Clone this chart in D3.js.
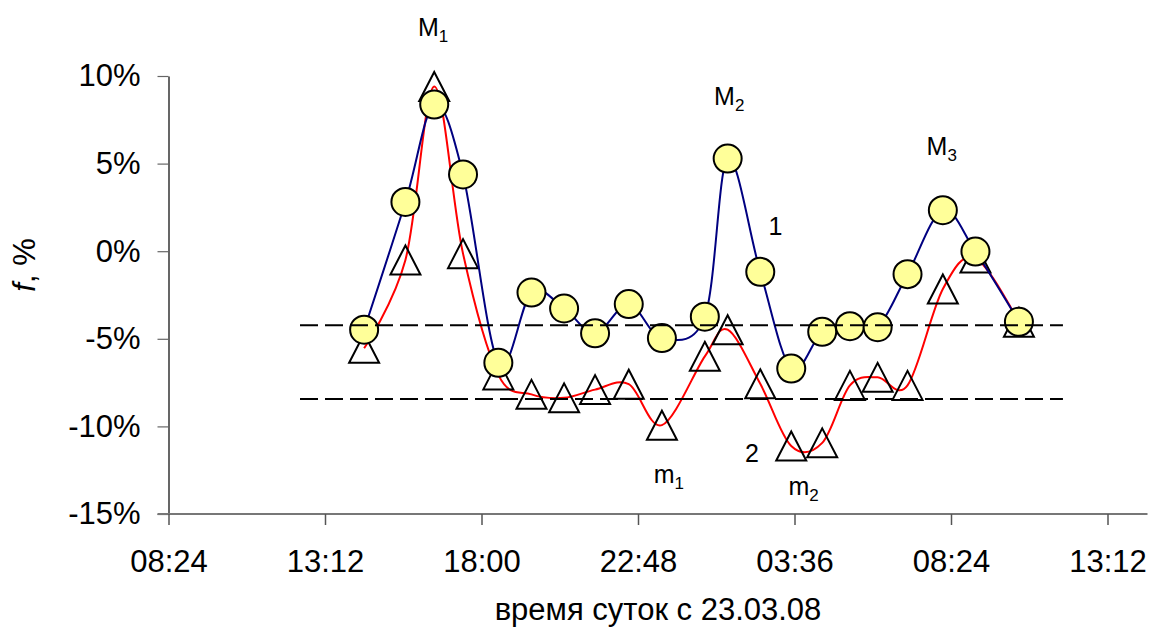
<!DOCTYPE html>
<html>
<head>
<meta charset="utf-8">
<script src="https://cdn.jsdelivr.net/npm/d3@7"></script>
<style>
  html, body { margin: 0; padding: 0; background: #fff; }
  svg { display: block; font-family: "Liberation Sans", Arial, sans-serif; }
</style>
</head>
<body>
<svg id="chart" width="1152" height="631"></svg>
<script>
// ---- data ----
const times = [
  "2008-03-23 14:24", "2008-03-23 15:40", "2008-03-23 16:33", "2008-03-23 17:26",
  "2008-03-23 18:31", "2008-03-23 19:32", "2008-03-23 20:32", "2008-03-23 21:29",
  "2008-03-23 22:31", "2008-03-23 23:32", "2008-03-24 00:51", "2008-03-24 01:33",
  "2008-03-24 02:33", "2008-03-24 03:30", "2008-03-24 04:27", "2008-03-24 05:18",
  "2008-03-24 06:09", "2008-03-24 07:04", "2008-03-24 08:09", "2008-03-24 09:09",
  "2008-03-24 10:29"
];
const series1 = [-4.48, 2.81, 8.37, 4.38, -6.37, -2.36, -3.27, -4.69, -3.02, -4.96, -3.74,
                 5.29, -1.18, -6.70, -4.60, -4.28, -4.34, -1.31, 2.34, -0.02, -4.03];
const series2 = [-5.54, -0.50, 9.40, -0.14, -7.06, -8.17, -8.37, -7.90, -7.59, -9.93, -6.00,
                 -4.48, -7.57, -11.12, -10.94, -7.66, -7.20, -7.66, -2.16, -0.39, -4.06];
const refLevels = [-4.22, -8.44];
const refSpan = ["2008-03-23 12:26", "2008-03-24 11:50"];
const xTickLabels = ["08:24", "13:12", "18:00", "22:48", "03:36", "08:24", "13:12"];
const xTickTimes = ["2008-03-23 08:24", "2008-03-23 13:12", "2008-03-23 18:00", "2008-03-23 22:48",
                    "2008-03-24 03:36", "2008-03-24 08:24", "2008-03-24 13:12"];
const yTicks = [10, 5, 0, -5, -10, -15];
const annoText = ["M", "M", "M", "1", "2", "m", "m"];
const annoSub  = ["1", "2", "3", "", "", "1", "2"];
const annoTime = ["2008-03-23 16:03", "2008-03-24 01:08", "2008-03-24 07:39", "2008-03-24 02:48",
                  "2008-03-24 02:05", "2008-03-23 23:17", "2008-03-24 03:25"];
const annoValue = [12.26, 8.37, 5.48, 0.91, -12.02, -13.25, -13.92];
const xTitle = "время суток с 23.03.08";

// ---- setup ----
const parse = d3.timeParse("%Y-%m-%d %H:%M");
const svg = d3.select("#chart");
const x = d3.scaleTime()
  .domain([parse(xTickTimes[0]), parse(xTickTimes[xTickTimes.length - 1])])
  .range([168.5, 1107.5]);
const y = d3.scaleLinear().domain([-15, 10]).range([514, 76]);

const pts1 = times.map((t, i) => ({ t: parse(t), v: series1[i] }));
const pts2 = times.map((t, i) => ({ t: parse(t), v: series2[i] }));

// ---- axes ----
const yAxis = d3.axisLeft(y).tickValues(yTicks).tickSize(11).tickSizeOuter(0).tickPadding(17)
  .tickFormat(d => `${d}%`);
const gy = svg.append("g").attr("transform", `translate(${x.range()[0]},0)`).call(yAxis);
gy.select(".domain").attr("stroke", "#000").attr("stroke-width", 1.2);
gy.selectAll(".tick line").attr("stroke", "#666").attr("stroke-width", 1.2);
gy.selectAll(".tick text").attr("font-size", 31).attr("fill", "#000")
  .attr("font-family", "Liberation Sans, Arial, sans-serif");

const xTickDates = xTickTimes.map(parse);
const xAxis = d3.axisBottom(x).tickValues(xTickDates).tickSize(11).tickSizeOuter(0).tickPadding(25)
  .tickFormat((d, i) => xTickLabels[i]);
const gx = svg.append("g").attr("transform", `translate(0,${y(-15)})`).call(xAxis);
gx.select(".domain").remove();
gx.insert("line", ":first-child")
  .attr("x1", x.range()[0] - 11).attr("x2", x.range()[1] + 40)
  .attr("y1", 0).attr("y2", 0)
  .attr("stroke", "#777").attr("stroke-width", 2);
gx.selectAll(".tick line").attr("stroke", "#555").attr("stroke-width", 1.5);
gx.selectAll(".tick text").attr("font-size", 31).attr("fill", "#000")
  .attr("font-family", "Liberation Sans, Arial, sans-serif");

// axis titles
svg.append("text")
  .attr("x", 658).attr("y", 620)
  .attr("text-anchor", "middle").attr("font-size", 31).attr("fill", "#000")
  .text(xTitle);
const yt = svg.append("text")
  .attr("transform", "translate(35,265) rotate(-90)")
  .attr("text-anchor", "middle").attr("font-size", 31).attr("fill", "#000");
yt.append("tspan").attr("font-style", "italic").text("f");
yt.append("tspan").text(", %");

// ---- series 2 (red line + triangles) ----
const line = d3.line().x(d => x(d.t)).y(d => y(d.v)).curve(d3.curveCardinal.tension(0));
svg.append("path").datum(pts2).attr("d", line)
  .attr("fill", "none").attr("stroke", "#ff0000").attr("stroke-width", 2);
const triW = 30, triH = 29;
svg.append("g").selectAll("path").data(pts2).join("path")
  .attr("d", d => {
    const cx = x(d.t), cy = y(d.v);
    return `M${cx},${cy - triH / 2}L${cx + triW / 2},${cy + triH / 2}L${cx - triW / 2},${cy + triH / 2}Z`;
  })
  .attr("fill", "none").attr("stroke", "#000").attr("stroke-width", 2);

// ---- series 1 (blue line + circles) ----
svg.append("path").datum(pts1).attr("d", line)
  .attr("fill", "none").attr("stroke", "#000080").attr("stroke-width", 2);
svg.append("g").selectAll("circle").data(pts1).join("circle")
  .attr("cx", d => x(d.t)).attr("cy", d => y(d.v)).attr("r", 14)
  .attr("fill", "#ffff99").attr("stroke", "#000").attr("stroke-width", 2);

// ---- reference dashed lines ----
svg.append("g").selectAll("line").data(refLevels).join("line")
  .attr("x1", x(parse(refSpan[0]))).attr("x2", x(parse(refSpan[1])))
  .attr("y1", d => y(d)).attr("y2", d => y(d))
  .attr("stroke", "#000").attr("stroke-width", 2).attr("stroke-dasharray", "18,7");

// ---- annotations ----
const ag = svg.append("g");
annoText.forEach((t, i) => {
  const tx = ag.append("text")
    .attr("x", x(parse(annoTime[i]))).attr("y", y(annoValue[i]))
    .attr("font-size", 25).attr("fill", "#000");
  tx.append("tspan").text(t);
  if (annoSub[i]) tx.append("tspan").attr("font-size", 17).attr("dy", 6).text(annoSub[i]);
});
</script>
</body>
</html>
